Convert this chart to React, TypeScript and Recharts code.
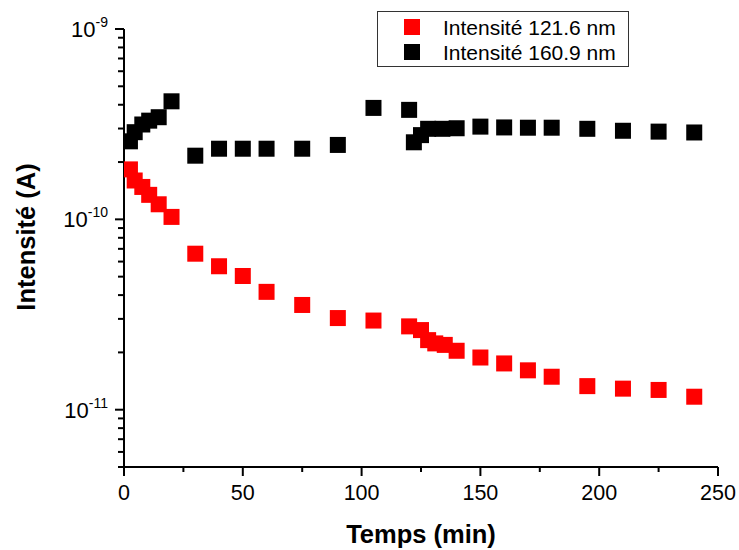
import React from 'react';
import { ScatterChart, Scatter, XAxis, YAxis, Legend, Label } from 'recharts';

const seriesNames = ['Intensité 121.6 nm', 'Intensité 160.9 nm'];
const seriesColors = ['#ff0000', '#000000'];

const redTimes = [2.5, 4.5, 7.7, 10.6, 14.6, 20, 30, 40, 50, 60, 75, 90, 105, 120, 125, 128, 131, 135, 140, 150, 160, 170, 180, 195, 210, 225, 240];
const redValues = [1.83e-10, 1.6e-10, 1.48e-10, 1.345e-10, 1.2e-10, 1.03e-10, 6.6e-11, 5.67e-11, 5.04e-11, 4.16e-11, 3.55e-11, 3.03e-11, 2.94e-11, 2.74e-11, 2.62e-11, 2.32e-11, 2.23e-11, 2.19e-11, 2.04e-11, 1.88e-11, 1.75e-11, 1.61e-11, 1.49e-11, 1.33e-11, 1.29e-11, 1.27e-11, 1.17e-11];

const blackTimes = [2.5, 4.5, 7.7, 10.6, 14.6, 20, 30, 40, 50, 60, 75, 90, 105, 120, 122, 125, 128, 134, 140, 150, 160, 170, 180, 195, 210, 225, 240];
const blackValues = [2.57e-10, 2.87e-10, 3.15e-10, 3.3e-10, 3.44e-10, 4.17e-10, 2.16e-10, 2.35e-10, 2.35e-10, 2.35e-10, 2.35e-10, 2.46e-10, 3.85e-10, 3.76e-10, 2.54e-10, 2.77e-10, 2.99e-10, 2.99e-10, 3.01e-10, 3.07e-10, 3.04e-10, 3.03e-10, 3.03e-10, 2.99e-10, 2.92e-10, 2.89e-10, 2.86e-10];

const xTicks = [0, 25, 50, 75, 100, 125, 150, 175, 200, 225, 250];
const xLabeled = [0, 50, 100, 150, 200, 250];
const yTicks = [
  5e-12, 6e-12, 7e-12, 8e-12, 9e-12,
  1e-11, 2e-11, 3e-11, 4e-11, 5e-11, 6e-11, 7e-11, 8e-11, 9e-11,
  1e-10, 2e-10, 3e-10, 4e-10, 5e-10, 6e-10, 7e-10, 8e-10, 9e-10,
  1e-9,
];
const yDecades = [1e-11, 1e-10, 1e-9];
const yDecadeExp = ['-11', '-10', '-9'];

const xTitle = 'Temps (min)';
const yTitle = 'Intensité (A)';

const FONT = '"Liberation Sans", Arial, sans-serif';

const redData = redTimes.map((t, i) => ({ t, v: redValues[i] }));
const blackData = blackTimes.map((t, i) => ({ t, v: blackValues[i] }));

const isDecade = (v: number) => yDecades.some((d) => Math.abs(v / d - 1) < 1e-6);

const YTick = (props: any) => {
  const { x, y, payload } = props;
  const v = payload.value;
  const major = isDecade(v);
  const idx = yDecades.findIndex((d) => Math.abs(v / d - 1) < 1e-6);
  return (
    <g>
      <line x1={x - (major ? 9 : 6)} x2={x} y1={y} y2={y} stroke="#000" strokeWidth={2} />
      {major && (
        <text x={x - 16} y={y + 8} textAnchor="end" fontFamily={FONT} fontSize={22} fill="#000">
          <tspan>10</tspan>
          <tspan dy={-10} fontSize={14}>{yDecadeExp[idx]}</tspan>
        </text>
      )}
    </g>
  );
};

const XTick = (props: any) => {
  const { x, y, payload } = props;
  const v = payload.value;
  const major = xLabeled.includes(v);
  return (
    <g>
      <line x1={x} x2={x} y1={y} y2={y + (major ? 9 : 5)} stroke="#000" strokeWidth={2} />
      {major && (
        <text x={x} y={y + 33} textAnchor="middle" fontFamily={FONT} fontSize={21.5} fill="#000">
          {v}
        </text>
      )}
    </g>
  );
};

const SquareShape = (color: string) => (props: any) => {
  const { cx, cy } = props;
  if (cx == null || cy == null) return <g />;
  return <rect x={cx - 8} y={cy - 8} width={16} height={16} fill={color} />;
};

const LegendBox = () => (
  <div
    style={{
      width: 252,
      height: 56,
      boxSizing: 'border-box',
      border: '1px solid #333',
      background: '#fff',
      position: 'relative',
      fontFamily: FONT,
      fontSize: 21,
      color: '#000',
    }}
  >
    {seriesNames.map((name, i) => (
      <div key={name} style={{ position: 'absolute', left: 0, top: 3 + i * 25, height: 25, width: '100%' }}>
        <div style={{ position: 'absolute', left: 26, top: 4, width: 16, height: 16, background: seriesColors[i] }} />
        <div style={{ position: 'absolute', left: 65, top: 0, lineHeight: '25px', whiteSpace: 'nowrap' }}>{name}</div>
      </div>
    ))}
  </div>
);

export default function App() {
  return (
    <div style={{ position: 'absolute', left: 0, top: 0, width: 739, height: 550, background: '#fff' }}>
      <ScatterChart width={739} height={550} margin={{ top: 29, right: 21, bottom: 23, left: 24 }}>
        <XAxis
          type="number"
          dataKey="t"
          domain={[0, 250]}
          ticks={xTicks}
          interval={0}
          tickSize={0}
          tickMargin={0}
          tickLine={false}
          tick={<XTick />}
          axisLine={{ stroke: '#000', strokeWidth: 2 }}
          height={60}
          allowDataOverflow
        >
          <Label
            content={(p: any) => {
              const vb = p.viewBox;
              return (
                <text
                  x={vb.x + vb.width / 2}
                  y={vb.y + 76}
                  textAnchor="middle"
                  fontFamily={FONT}
                  fontWeight="bold"
                  fontSize={25.5}
                  fill="#000"
                >
                  {xTitle}
                </text>
              );
            }}
          />
        </XAxis>
        <YAxis
          type="number"
          dataKey="v"
          scale="log"
          domain={[5e-12, 1e-9]}
          ticks={yTicks}
          interval={0}
          tickSize={0}
          tickMargin={0}
          tickLine={false}
          tick={<YTick />}
          axisLine={{ stroke: '#000', strokeWidth: 2 }}
          width={100}
          allowDataOverflow
        >
          <Label
            content={(p: any) => {
              const vb = p.viewBox;
              const cx = vb.x + 2;
              const cy = vb.y + vb.height / 2 - 11;
              return (
                <text
                  x={cx}
                  y={cy}
                  transform={`rotate(-90, ${cx}, ${cy})`}
                  textAnchor="middle"
                  dominantBaseline="central"
                  fontFamily={FONT}
                  fontWeight="bold"
                  fontSize={25.5}
                  fill="#000"
                >
                  {yTitle}
                </text>
              );
            }}
          />
        </YAxis>
        <Legend
          layout="vertical"
          align="center"
          verticalAlign="middle"
          wrapperStyle={{ position: 'absolute', left: 377, top: 11, width: 252, height: 56 }}
          content={() => <LegendBox />}
        />
        <Scatter
          name={seriesNames[0]}
          data={redData}
          fill={seriesColors[0]}
          shape={SquareShape(seriesColors[0])}
          isAnimationActive={false}
        />
        <Scatter
          name={seriesNames[1]}
          data={blackData}
          fill={seriesColors[1]}
          shape={SquareShape(seriesColors[1])}
          isAnimationActive={false}
        />
      </ScatterChart>
    </div>
  );
}
